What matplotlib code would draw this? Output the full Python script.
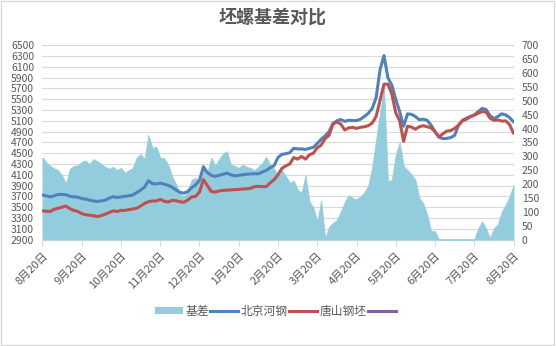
import matplotlib
matplotlib.use("Agg")
import matplotlib.pyplot as plt
import numpy as np
from matplotlib.patches import Rectangle
from matplotlib.lines import Line2D

plt.rcParams['font.family'] = ['Noto Sans CJK SC', 'DejaVu Sans']

# 月度刻度
tick_labels = ['8月20日', '9月20日', '10月20日', '11月20日', '12月20日', '1月20日', '2月20日',
               '3月20日', '4月20日', '5月20日', '6月20日', '7月20日', '8月20日']

# 基差（右轴）
jicha = [296, 278, 265, 256, 250, 230, 202, 255, 265, 268,
         280, 285, 272, 290, 282, 272, 262, 255, 262, 250,
         258, 240, 250, 258, 295, 308, 290, 377, 330, 335,
         295, 293, 270, 228, 200, 165, 155, 175, 215, 222,
         210, 255, 240, 295, 265, 290, 310, 318, 270, 265,
         258, 270, 262, 258, 250, 262, 275, 298, 270, 255,
         230, 250, 228, 205, 212, 180, 168, 230, 138, 115,
         65, 140, 5, 45, 60, 70, 100, 135, 160, 150,
         145, 155, 170, 195, 260, 360, 460, 550, 210, 215,
         305, 350, 265, 250, 235, 215, 150, 130, 90, 30,
         30, 0, 0, 0, 0, 0, 0, 0, 0, 0,
         0, 40, 65, 40, 5, 40, 55, 100, 125, 155,
         196]

# 北京河钢（左轴）
hegang = [3725, 3710, 3690, 3710, 3735, 3735, 3730, 3700, 3690, 3685,
          3660, 3650, 3630, 3615, 3605, 3615, 3630, 3665, 3695, 3680,
          3690, 3700, 3710, 3725, 3770, 3815, 3870, 3990, 3935, 3930,
          3945, 3925, 3905, 3870, 3820, 3775, 3760, 3790, 3860, 3910,
          4000, 4250, 4140, 4090, 4070, 4090, 4110, 4130, 4100, 4080,
          4090, 4100, 4110, 4115, 4120, 4120, 4150, 4180, 4230, 4270,
          4420, 4480, 4490, 4510, 4590, 4580, 4580, 4570, 4590, 4610,
          4680, 4760, 4820, 4900, 5050, 5100, 5125, 5090, 5110, 5105,
          5105, 5130, 5180, 5240, 5330, 5530, 6050, 6310, 5900, 5760,
          5500, 5270, 5000, 5230, 5220, 5180, 5120, 5130, 5110, 5020,
          4900, 4800, 4770, 4775, 4790, 4830, 5020, 5110, 5150, 5180,
          5210, 5270, 5330, 5310, 5200, 5140, 5180, 5230, 5210, 5160,
          5080]

# 唐山钢坯（左轴）
gangpi = [3430, 3425, 3420, 3460, 3480, 3500, 3520, 3470, 3440, 3420,
          3380, 3360, 3350, 3340, 3325, 3345, 3370, 3400, 3430, 3420,
          3440, 3440, 3455, 3465, 3480, 3520, 3570, 3600, 3615, 3615,
          3645, 3610, 3595, 3625, 3620, 3600, 3590, 3630, 3690, 3700,
          3780, 4010, 3900, 3790, 3780, 3800, 3810, 3815, 3820, 3825,
          3830, 3835, 3840, 3850, 3880, 3885, 3880, 3880, 3950, 4010,
          4100, 4220, 4265, 4300, 4420, 4390, 4440, 4390, 4470, 4500,
          4600, 4650, 4770, 4830, 5040, 5080, 5040, 4930, 4970, 4980,
          4960, 4980, 4990, 5010, 5060, 5180, 5480, 5780, 5780, 5600,
          5250, 5100, 4720, 5000, 4985, 4945, 4990, 5010, 4990, 4970,
          4900, 4800, 4860, 4910, 4920, 4960, 5020, 5100, 5130, 5175,
          5205, 5240, 5270, 5265, 5150, 5110, 5115, 5095, 5100, 5030,
          4870]

x = np.arange(len(jicha))
text_c = '#595959'
grid_c = '#d9d9d9'
c_area = '#93cddd'
c_blue = '#4f81bd'
c_red = '#c0504d'
c_purple = '#8064a2'

fig = plt.figure(figsize=(5.56, 3.46), dpi=100)
rect = [0.0764, 0.3078, 0.8472, 0.5612]

# 底层：左轴刻度与网格
ax = fig.add_axes(rect)
ax.set_ylim(2900, 6500)
ax.set_yticks(np.arange(2900, 6501, 200))
ax.grid(axis='y', color=grid_c, linewidth=0.8)
ax.set_xlim(0, len(x) - 1)
ax.set_xticks(np.arange(0, len(x), 10))
ax.set_xticklabels(tick_labels, rotation=45, ha='right', va='top', rotation_mode='anchor')
ax.tick_params(axis='y', length=0, labelsize=7.5, labelcolor=text_c, pad=6)
ax.tick_params(axis='x', length=4, color=grid_c, labelsize=8, labelcolor=text_c, pad=4)
for s in ['top', 'right', 'left']:
    ax.spines[s].set_visible(False)
ax.spines['bottom'].set_color(grid_c)

# 中层：基差面积（右轴）
ax2 = ax.twinx()
ax2.fill_between(x, 0, jicha, color=c_area, edgecolor=c_area, linewidth=0.6)
ax2.set_ylim(0, 700)
ax2.set_yticks(np.arange(0, 701, 50))
ax2.tick_params(axis='y', length=0, labelsize=7.5, labelcolor=text_c, pad=6)
for s in ax2.spines.values():
    s.set_visible(False)

# 顶层：价格曲线（左轴刻度）
ax3 = ax.twinx()
ax3.set_ylim(2900, 6500)
ax3.plot(x, hegang, color=c_blue, linewidth=2.2, solid_capstyle='round')
ax3.plot(x, gangpi, color=c_red, linewidth=2.2, solid_capstyle='round')
ax3.set_yticks([])
for s in ax3.spines.values():
    s.set_visible(False)
ax3.set_xlim(0, len(x) - 1)

fig.text(0.49, 0.951, '坯螺基差对比', ha='center', va='center', fontsize=13,
         fontweight='bold', color=text_c)

handles = [Rectangle((0, 0), 1, 1, facecolor=c_area, edgecolor='none'),
           Line2D([], [], color=c_blue, linewidth=2.2),
           Line2D([], [], color=c_red, linewidth=2.2),
           Line2D([], [], color=c_purple, linewidth=2.2)]
labels = ['基差', '北京河钢', '唐山钢坯', ' ']
fig.legend(handles, labels, loc='center', bbox_to_anchor=(0.5, 0.101), ncol=4,
           frameon=False, fontsize=8.5, labelcolor=text_c, handlelength=2.4,
           handleheight=0.6, handletextpad=0.2, columnspacing=0.1)

fig.add_artist(Rectangle((0.002, 0.003), 0.995, 0.994, transform=fig.transFigure,
                         fill=False, edgecolor=grid_c, linewidth=1))

fig.savefig('out.png', dpi=100)
